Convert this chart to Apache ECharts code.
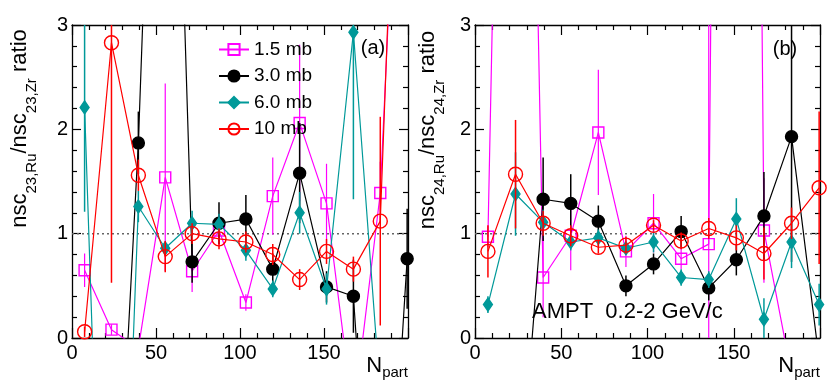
<!DOCTYPE html>
<html>
<head>
<meta charset="utf-8">
<script src="https://cdn.jsdelivr.net/npm/echarts@6/dist/echarts.min.js"></script>
<style>
  html, body { margin: 0; padding: 0; background: #fff; }
  #chart { width: 830px; height: 385px; }
</style>
</head>
<body>
<div id="chart"></div>
<script>
// bin centres in Npart
const nPart = [7.5, 23.5, 39.5, 55.5, 71.5, 87.5, 103.5, 119.5, 135.5, 151.5, 167.5, 183.5, 199.5];

// panel (a): nsc23 ratio
const a15 = [0.65, 0.08, -0.1, 1.54, 0.64, 1.03, 0.34, 1.36, 2.06, 1.29, -0.75, 1.39, 7];
const a15Err = [0.16, 0.05, 0, 0.9, 0.2, 0.15, 0.08, 0.37, 0.75, 0.38, 0, 0.3, 0];
const a30 = [-4, -3, 1.87, 9, 0.73, 1.10, 1.14, 0.66, 1.58, 0.49, 0.40, -3.4, 0.76];
const a30Err = [0, 0, 0.3, 0, 0.2, 0.2, 0.23, 0.15, 0.48, 0.15, 0.35, 0, 0.48];
const a60 = [2.21, -5.5, 1.26, 0.86, 1.10, 1.09, 0.84, 0.47, 1.20, 0.47, 2.93, -0.54, -1];
const a60Err = [1.0, 0, 0.15, 0.06, 0.12, 0.1, 0.1, 0.08, 0.2, 0.15, 1.6, 0, 0];
const a10 = [0.06, 2.83, 1.56, 0.78, 1.00, 0.95, 0.92, 0.80, 0.56, 0.83, 0.66, 1.12, 8];
const a10Err = [0.05, 2.3, 0.15, 0.15, 0.1, 0.1, 0.1, 0.1, 0.1, 0.12, 0.12, 1.0, 0];

// panel (b): nsc24 ratio
const b15 = [0.97, 14, 0.58, 0.98, 1.97, 0.83, 1.10, 0.76, 0.90, 30, 1.03, -0.35, -1];
const b15Err = [0.1, 0, 0.38, 0.33, 0.6, 0.15, 0.28, 0.1, 2.2, 0, 0.5, 0, 0];
const b30 = [-1.5, -2, 1.33, 1.29, 1.12, 0.50, 0.71, 1.02, 0.48, 0.75, 1.17, 1.93, -0.21];
const b30Err = [0, 0, 0.4, 0.28, 0.15, 0.1, 0.1, 0.15, 0.12, 0.15, 0.42, 1.2, 0];
const b60 = [0.32, 1.38, 1.11, 0.92, 0.96, 0.86, 0.92, 0.58, 0.56, 1.14, 0.18, 0.92, 0.32];
const b60Err = [0.08, 0.4, 0.12, 0.08, 0.08, 0.06, 0.1, 0.08, 0.08, 0.2, 0.2, 0.25, 0.2];
const b10 = [0.83, 1.57, 1.10, 0.98, 0.87, 0.89, 1.08, 0.93, 1.05, 0.96, 0.81, 1.10, 1.44];
const b10Err = [0.25, 0.52, 0.12, 0.1, 0.06, 0.08, 0.05, 0.08, 0.1, 0.12, 0.25, 0.15, 0.73];

const legendNames = ["1.5 mb", "3.0 mb", "6.0 mb", "10 mb"];

const FONT = '"Liberation Sans", Arial, sans-serif';
const PINK = "#ff00ff";
const BLACK = "#000000";
const TEAL = "#009999";
const RED = "#ff0000";

const chart = echarts.init(document.getElementById("chart"));

const xAxisDef = (grid, main) => ({
  type: "value",
  gridIndex: grid,
  min: 0,
  max: 200,
  interval: 50,
  position: main ? "bottom" : "top",
  axisLine: { show: true, onZero: false, lineStyle: { color: "#000", width: 1.3 } },
  axisTick: { show: true, inside: true, length: 10, lineStyle: { color: "#000", width: 1.2 } },
  minorTick: { show: true, splitNumber: 5, length: 5, lineStyle: { color: "#000", width: 1.2 } },
  axisLabel: {
    show: main,
    color: "#000",
    fontFamily: FONT,
    fontSize: 20,
    margin: 5,
    formatter: (v) => (v >= 200 ? "" : String(v)),
  },
  splitLine: { show: false },
});

const yAxisDef = (grid, main) => ({
  type: "value",
  gridIndex: grid,
  min: 0,
  max: 3,
  interval: 1,
  position: main ? "left" : "right",
  axisLine: { show: true, onZero: false, lineStyle: { color: "#000", width: 1.3 } },
  axisTick: { show: true, inside: true, length: 9, lineStyle: { color: "#000", width: 1.2 } },
  minorTick: { show: true, splitNumber: 5, length: 5, lineStyle: { color: "#000", width: 1.2 } },
  axisLabel: { show: main, color: "#000", fontFamily: FONT, fontSize: 20, margin: 4 },
  splitLine: { show: false },
});

const styles = [
  { color: PINK, symbol: "rect", size: 11, fill: "rgba(0,0,0,0)", errW: 1.2 },
  { color: BLACK, symbol: "circle", size: 12, fill: BLACK, errW: 1.5 },
  { color: TEAL, symbol: "diamond", size: [9, 13], fill: TEAL, errW: 1.5 },
  { color: RED, symbol: "circle", size: 14, fill: "rgba(0,0,0,0)", errW: 1.5 },
];

const lineSeries = (k, vals, axis) => ({
  type: "line",
  name: legendNames[k],
  xAxisIndex: axis,
  yAxisIndex: axis,
  data: nPart.map((x, i) => [x, vals[i]]),
  clip: true,
  symbol: styles[k].symbol,
  symbolSize: styles[k].size,
  showAllSymbol: true,
  lineStyle: { color: styles[k].color, width: 1.2 },
  itemStyle: { color: styles[k].fill, borderColor: styles[k].color, borderWidth: 1.4 },
  z: 3 + k,
  animation: false,
});

const errSeries = (k, vals, errs, axis) => ({
  type: "custom",
  name: "err" + k + "_" + axis,
  xAxisIndex: axis,
  yAxisIndex: axis,
  clip: true,
  silent: true,
  z: 3 + k,
  data: nPart.map((x, i) => [x, vals[i], errs[i]]),
  renderItem: (params, api) => {
    const x = api.value(0);
    const y = api.value(1);
    const e = api.value(2);
    if (!e) return null;
    const p1 = api.coord([x, y - e]);
    const p2 = api.coord([x, y + e]);
    return {
      type: "line",
      shape: { x1: p1[0], y1: p1[1], x2: p2[0], y2: p2[1] },
      style: { stroke: styles[k].color, lineWidth: styles[k].errW },
    };
  },
  animation: false,
});

const dotted = (axis) => ({
  type: "line",
  name: "ref" + axis,
  xAxisIndex: axis,
  yAxisIndex: axis,
  data: [[0, 1], [200, 1]],
  symbol: "none",
  lineStyle: { color: "#666", width: 1.5, type: [2, 3] },
  z: 1,
  animation: false,
});

// text with subscripts: a group of plain text pieces laid out by measured widths
const measure = document.createElement("canvas").getContext("2d");
const subText = (x, y, parts, opt) => {
  const big = opt.big, small = opt.small;
  let w = 0;
  const pieces = parts.map(([t, sub]) => {
    const size = sub ? small : big;
    measure.font = size + "px " + FONT;
    const pw = measure.measureText(t).width;
    const piece = { t, sub, size, at: w };
    w += pw;
    return piece;
  });
  const start = opt.align === "right" ? -w : opt.align === "center" ? -w / 2 : 0;
  return {
    type: "group",
    x,
    y,
    rotation: opt.rotation || 0,
    z: 100,
    children: pieces.map((p) => ({
      type: "text",
      x: start + p.at,
      y: p.sub ? opt.drop : 0,
      z: 100,
      style: {
        text: p.t,
        font: p.size + "px " + FONT,
        fill: "#000",
        align: "left",
        textAlign: "left",
        verticalAlign: "middle",
        textVerticalAlign: "middle",
      },
    })),
  };
};

const plainText = (x, y, text, size, align) => ({
  type: "text",
  x,
  y,
  z: 100,
  style: {
    text,
    font: size + "px " + FONT,
    fill: "#000",
    align,
    textAlign: align,
    verticalAlign: "middle",
    textVerticalAlign: "middle",
  },
});

chart.setOption({
  backgroundColor: "#fff",
  animation: false,
  grid: [
    { left: 72, top: 25, width: 336, height: 313 },
    { left: 475, top: 25, width: 345, height: 313 },
  ],
  xAxis: [xAxisDef(0, true), xAxisDef(0, false), xAxisDef(1, true), xAxisDef(1, false)],
  yAxis: [yAxisDef(0, true), yAxisDef(0, false), yAxisDef(1, true), yAxisDef(1, false)],
  legend: {
    data: legendNames,
    orient: "vertical",
    left: 213,
    top: 35,
    itemWidth: 30,
    itemHeight: 14,
    itemGap: 7.5,
    textStyle: { fontFamily: FONT, fontSize: 19, color: "#000", lineHeight: 19 },
    selectedMode: false,
  },
  series: [
    dotted(0),
    dotted(2),
    lineSeries(0, a15, 0), errSeries(0, a15, a15Err, 0),
    lineSeries(1, a30, 0), errSeries(1, a30, a30Err, 0),
    lineSeries(2, a60, 0), errSeries(2, a60, a60Err, 0),
    lineSeries(3, a10, 0), errSeries(3, a10, a10Err, 0),
    lineSeries(0, b15, 2), errSeries(0, b15, b15Err, 2),
    lineSeries(1, b30, 2), errSeries(1, b30, b30Err, 2),
    lineSeries(2, b60, 2), errSeries(2, b60, b60Err, 2),
    lineSeries(3, b10, 2), errSeries(3, b10, b10Err, 2),
  ],
  graphic: [
    subText(20, 128.5, [["nsc", false], ["23,Ru", true], ["/nsc", false], ["23,Zr", true], [" ratio", false]],
      { big: 22, small: 15, drop: 12, rotation: Math.PI / 2, align: "center" }),
    subText(428, 130, [["nsc", false], ["24,Ru", true], ["/nsc", false], ["24,Zr", true], [" ratio", false]],
      { big: 22, small: 15, drop: 12, rotation: Math.PI / 2, align: "center" }),
    subText(408, 366, [["N", false], ["part", true]], { big: 22, small: 15, drop: 7, align: "right" }),
    subText(820, 366, [["N", false], ["part", true]], { big: 22, small: 15, drop: 7, align: "right" }),
    plainText(373, 48, "(a)", 20, "center"),
    plainText(785, 49, "(b)", 20, "center"),
    plainText(532, 312, "AMPT  0.2-2 GeV/c", 22, "left"),
  ],
});
</script>
</body>
</html>
